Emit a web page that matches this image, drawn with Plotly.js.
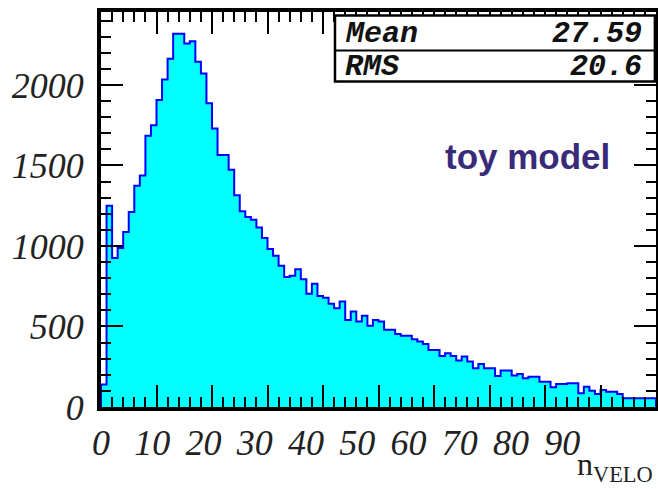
<!DOCTYPE html>
<html>
<head>
<meta charset="utf-8">
<script src="https://cdn.plot.ly/plotly-3.0.1.min.js"></script>
<style>
  html, body { margin: 0; padding: 0; background: #ffffff; }
  #chart { width: 658px; height: 489px; }
</style>
</head>
<body>
<div id="chart"></div>
<script>
// Number of VELO tracks per event (toy model), 1-unit bins from 0 to 100
var binLow = 0;
var binWidth = 1;
var counts = [
  140, 1250, 925, 987, 1086, 1211, 1374, 1437, 1685, 1749,
  1907, 2034, 2162, 2318, 2318, 2257, 2272, 2144, 2071, 1887,
  1729, 1565, 1565, 1474, 1315, 1215, 1180, 1163, 1115, 1049,
  981, 939, 877, 807, 815, 856, 794, 703, 765, 690,
  678, 641, 614, 655, 541, 593, 531, 566, 504, 541,
  531, 479, 479, 454, 442, 442, 421, 406, 392, 354,
  354, 317, 334, 317, 288, 313, 282, 241, 267, 241,
  241, 193, 226, 226, 195, 205, 178, 188, 188, 157,
  157, 122, 143, 143, 147, 147, 85, 126, 101, 81,
  106, 95, 95, 81, 54, 54, 54, 54, 54, 54
];

// Statistics box entries
var statNames = ['Mean', 'RMS'];
var statValues = ['27.59', '20.6'];

// Axis label text
var xTickValues = [0, 10, 20, 30, 40, 50, 60, 70, 80, 90];
var xTickText = ['0', '10', '20', '30', '40', '50', '60', '70', '80', '90'];
var yTickValues = [0, 500, 1000, 1500, 2000];
var yTickText = ['0', '500', '1000', '1500', '2000'];
var xTitle = 'n<sub>VELO</sub>';
var modelLabel = 'toy model';

// Step outline of the histogram: left edge of each bin at its content
var xs = [binLow];
var ys = [0];
for (var i = 0; i < counts.length; i++) {
  xs.push(binLow + i * binWidth);
  ys.push(counts[i]);
}
var xEnd = binLow + counts.length * binWidth;
xs.push(xEnd); ys.push(counts[counts.length - 1]);
xs.push(xEnd); ys.push(0);

var histTrace = {
  type: 'scatter',
  mode: 'lines',
  x: xs,
  y: ys,
  line: { shape: 'hv', color: '#0000ff', width: 2 },
  fill: 'tozeroy',
  fillcolor: '#00ffff',
  hoverinfo: 'skip',
  showlegend: false
};

// Carrier for the label axis along the bottom
var labelAxisTrace = {
  type: 'scatter',
  mode: 'none',
  x: [0],
  y: [0],
  xaxis: 'x2',
  yaxis: 'y',
  hoverinfo: 'skip',
  showlegend: false
};

var axisFont = { family: 'Liberation Serif', size: 36, style: 'italic', color: '#222222' };
var monoFont = { family: 'Liberation Mono', size: 30, style: 'italic', weight: 'bold', color: '#111111' };

var tickStyle = {
  ticks: 'inside',
  ticklen: 22,
  tickwidth: 2,
  tickcolor: '#000000',
  showline: true,
  linewidth: 4,
  linecolor: '#000000',
  mirror: 'ticks',
  showgrid: false,
  zeroline: false
};

var layout = {
  width: 658,
  height: 489,
  margin: { l: 101, r: 2, t: 12, b: 82, pad: 0 },
  paper_bgcolor: '#ffffff',
  plot_bgcolor: '#ffffff',
  showlegend: false,
  xaxis: Object.assign({}, tickStyle, {
    range: [0, 100],
    tick0: 0,
    dtick: 10,
    showticklabels: false,
    minor: { dtick: 2, ticks: 'inside', ticklen: 10, tickwidth: 2, tickcolor: '#000000', showgrid: false }
  }),
  xaxis2: {
    overlaying: 'x',
    anchor: 'y',
    side: 'bottom',
    range: [0, 108.3],
    tickmode: 'array',
    tickvals: xTickValues,
    ticktext: xTickText,
    ticks: '',
    showline: false,
    showgrid: false,
    zeroline: false,
    tickfont: axisFont,
    ticklabelstandoff: 11
  },
  yaxis: Object.assign({}, tickStyle, {
    range: [0, 2453],
    tickmode: 'array',
    tickvals: yTickValues,
    ticktext: yTickText,
    tickfont: axisFont,
    ticklabelstandoff: 6,
    minor: { dtick: 100, ticks: 'inside', ticklen: 10, tickwidth: 2, tickcolor: '#000000', showgrid: false }
  }),
  shapes: [
    { type: 'rect', xref: 'paper', yref: 'paper', x0: 0.4216, x1: 0.998, y0: 0.824, y1: 0.991,
      line: { color: '#000000', width: 2.5 }, fillcolor: '#ffffff', layer: 'above' },
    { type: 'line', xref: 'paper', yref: 'paper', x0: 0.4216, x1: 0.998, y0: 0.9025, y1: 0.9025,
      line: { color: '#000000', width: 2 }, layer: 'above' }
  ],
  annotations: [
    { xref: 'paper', yref: 'paper', x: 0.436, y: 0.945, xanchor: 'left', yanchor: 'middle',
      text: statNames[0], showarrow: false, font: monoFont },
    { xref: 'paper', yref: 'paper', x: 0.978, y: 0.945, xanchor: 'right', yanchor: 'middle',
      text: statValues[0], showarrow: false, font: monoFont },
    { xref: 'paper', yref: 'paper', x: 0.436, y: 0.862, xanchor: 'left', yanchor: 'middle',
      text: statNames[1], showarrow: false, font: monoFont },
    { xref: 'paper', yref: 'paper', x: 0.978, y: 0.862, xanchor: 'right', yanchor: 'middle',
      text: statValues[1], showarrow: false, font: monoFont },
    { xref: 'paper', yref: 'paper', x: 0.768, y: 0.633, xanchor: 'center', yanchor: 'middle',
      text: modelLabel, showarrow: false,
      font: { family: 'Liberation Sans', size: 35, weight: 'bold', color: '#3a2a7a' } },
    { xref: 'paper', yref: 'paper', x: 0.998, y: -0.2076, xanchor: 'right', yanchor: 'bottom',
      text: xTitle, showarrow: false,
      font: { family: 'Liberation Serif', size: 32, color: '#222222' } }
  ]
};

Plotly.newPlot('chart', [histTrace, labelAxisTrace], layout, { staticPlot: true, displayModeBar: false });
</script>
</body>
</html>
